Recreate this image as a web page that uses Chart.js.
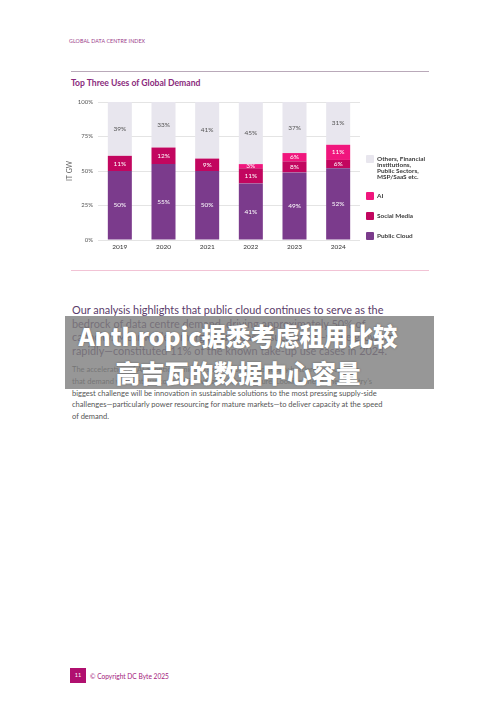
<!DOCTYPE html>
<html>
<head>
<meta charset="utf-8">
<script src="https://cdn.jsdelivr.net/npm/chart.js@4.4.1/dist/chart.umd.min.js"></script>
<style>
  body { margin: 0; background: #fff; font-family: Lato, "Noto Sans", sans-serif; }
  #page { position: relative; width: 500px; height: 707px; overflow: hidden; background: #fff; }
  .hdr { position: absolute; left: 69px; top: 38px; font-size: 5.3px; color: #9a3a8a; letter-spacing: 0.1px; }
  .rule-top { position: absolute; left: 71px; top: 71px; width: 358px; height: 1px; background: #b9a9b9; }
  .title { position: absolute; left: 71px; top: 78px; font-size: 8.6px; font-weight: bold; color: #8a2a7c; }
  .rule-pink { position: absolute; left: 71px; top: 270px; width: 358px; height: 1px; background: #f2c3d5; }
  #chartBox { position: absolute; left: 60px; top: 92px; width: 310px; height: 162px; }
  #legend { position: absolute; left: 366px; top: 155px; display: flex; flex-direction: column; gap: 12px; }
  .li { display: flex; align-items: flex-start; }
  .sw { width: 8px; height: 8px; flex: none; margin-right: 3px; border-radius: 1px; }
  .lt { font-size: 6.4px; line-height: 6.1px; color: #3a3a3a; font-weight: bold; padding-top: 1px; }
  .lead { position: absolute; left: 72px; top: 303px; font-size: 10.9px; line-height: 13.6px; color: #5a3c6a; white-space: pre; }
  .body { position: absolute; left: 72px; top: 364px; font-size: 7.55px; line-height: 11.8px; color: #555; white-space: pre; }
  .banner { position: absolute; left: 65px; top: 316px; width: 369px; height: 73px; background: rgba(125,125,125,0.8); }
  .bantxt { position: absolute; left: 63px; top: 317px; width: 350px; text-align: center; color: #fff;
            font-family: "Noto Sans CJK SC", "Noto Sans", sans-serif; font-weight: 900; font-size: 24.5px; line-height: 37px;
            text-shadow: 0 0 2px rgba(60,60,60,0.6); }
  .pgno { position: absolute; left: 70px; top: 668px; width: 16px; height: 15px; background: #b0106f; color: #fff;
          font-size: 5.5px; text-align: center; line-height: 15px; }
  .copy { position: absolute; left: 90px; top: 672px; font-size: 6.6px; color: #a3177b; }
</style>
</head>
<body>
<div id="page">
  <div class="hdr">GLOBAL DATA CENTRE INDEX</div>
  <div class="rule-top"></div>
  <div class="title">Top Three Uses of Global Demand</div>
  <div id="chartBox"><canvas id="chart"></canvas></div>
  <div id="legend"></div>
  <div class="rule-pink"></div>

  <div class="lead">Our analysis highlights that public cloud continues to serve as the
bedrock of data centre demand, driving approximately 50% of
capacity. Meanwhile, emerging use cases such as AI—while growing
rapidly—constituted 11% of the known take-up use cases in 2024.</div>

  <div class="body">The acceleration of AI adoption amid persistent power and supply bottlenecks suggests
that demand will continue to outstrip available infrastructure. Looking ahead, the industry’s
biggest challenge will be innovation in sustainable solutions to the most pressing supply-side
challenges—particularly power resourcing for mature markets—to deliver capacity at the speed
of demand.</div>

  <div class="banner"></div>
  <div class="bantxt">Anthropic据悉考虑租用比较<br>高吉瓦的数据中心容量</div>

  <div class="pgno">11</div>
  <div class="copy">© Copyright DC Byte 2025</div>
</div>

<script>
// chart data
const years = ['2019', '2020', '2021', '2022', '2023', '2024'];
const publicCloud = [50, 55, 50, 41, 49, 52];
const socialMedia = [11, 12, 9, 11, 8, 6];
const aiUse = [0, 0, 0, 3, 6, 11];
const others = [39, 33, 41, 45, 37, 31];
const yTicks = [0, 25, 50, 75, 100];

const seriesNames = ['Public Cloud', 'Social Media', 'AI', 'Others, Financial\nInstitutions,\nPublic Sectors,\nMSP/SaaS etc.'];
const seriesColors = ['#7b3b8c', '#c2065f', '#f0167d', '#e8e6ee'];
const labelColors = ['#fff', '#fff', '#fff', '#555'];

const datasets = [publicCloud, socialMedia, aiUse, others].map((d, i) => ({
  label: seriesNames[i],
  data: d,
  backgroundColor: seriesColors[i],
  labelColor: labelColors[i],
  barPercentage: 0.55,
  categoryPercentage: 1
}));

// segment labels inside bars
const segLabels = {
  id: 'segLabels',
  afterDatasetsDraw(chart) {
    const ctx = chart.ctx;
    ctx.save();
    ctx.font = '6.5px Lato';
    ctx.textAlign = 'center';
    ctx.textBaseline = 'middle';
    chart.data.datasets.forEach((ds, i) => {
      chart.getDatasetMeta(i).data.forEach((bar, j) => {
        const v = ds.data[j];
        if (!v) return;
        ctx.fillStyle = ds.labelColor;
        ctx.fillText(v + '%', bar.x, (bar.y + bar.base) / 2);
      });
    });
    ctx.restore();
  }
};

new Chart(document.getElementById('chart').getContext('2d'), {
  type: 'bar',
  data: { labels: years, datasets: datasets },
  options: {
    responsive: true,
    maintainAspectRatio: false,
    animation: false,
    layout: { padding: { top: 10, right: 10, left: 0, bottom: 0 } },
    scales: {
      x: {
        stacked: true,
        grid: { display: false, drawTicks: false, tickLength: 0 },
        border: { display: false },
        ticks: { color: '#333', font: { family: 'Lato', size: 6.5 }, padding: 3 },
        afterFit: s => { s.height = 14; }
      },
      y: {
        stacked: true,
        min: 0, max: 100,
        afterBuildTicks: s => { s.ticks = yTicks.map(v => ({ value: v })); },
        grid: { color: '#e4e4e4', drawTicks: false },
        border: { display: false },
        ticks: { color: '#555', font: { family: 'Lato', size: 6 }, padding: 5, callback: v => v + '%' },
        title: { display: true, text: 'IT GW', color: '#666', font: { family: 'Lato', size: 7 }, padding: { top: 6, bottom: 0 } },
        afterFit: s => { s.width = 38; }
      }
    },
    plugins: { legend: { display: false }, tooltip: { enabled: false } }
  },
  plugins: [segLabels]
});

// legend (top to bottom: Others, AI, Social Media, Public Cloud)
const legend = document.getElementById('legend');
[3, 2, 1, 0].forEach(i => {
  legend.innerHTML += '<div class="li"><div class="sw" style="background:' + seriesColors[i] + '"></div>' +
    '<div class="lt">' + seriesNames[i].replace(/\n/g, '<br>') + '</div></div>';
});
</script>
</body>
</html>
